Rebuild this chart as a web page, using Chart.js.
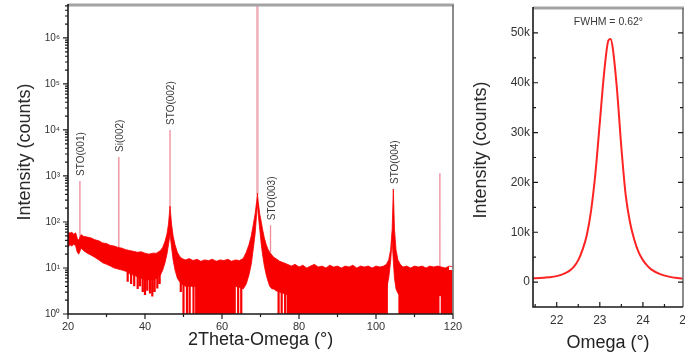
<!DOCTYPE html>
<html><head><meta charset="utf-8">
<script src="https://cdn.jsdelivr.net/npm/chart.js@4.4.1/dist/chart.umd.min.js"></script>
<style>
html,body{margin:0;padding:0;background:#fff;overflow:hidden;}
body{width:685px;height:358px;position:relative;}
#c1{position:absolute;left:0;top:0;}
#c2{position:absolute;left:470px;top:0;}
</style></head><body>
<canvas id="c1" width="470" height="358"></canvas>
<canvas id="c2" width="245" height="358"></canvas>
<script>
// ---------- Left panel: 2Theta-Omega scan (log counts) ----------
const xrdTwoTheta = [20,20.5,21,21.5,22,22.4,22.8,23.4,24,25,26,27,28,29,30,31,32,33,34,35,36,37,38,39,40,41,42,43,44,44.6,45.2,45.7,46.1,46.5,46.9,47.3,47.8,48.4,49,49.6,50.5,51.5,52.5,53.5,54.5,55.5,56.5,57.5,58.5,59.5,60.5,61.5,62.5,63.5,64.5,65.5,66.3,67,67.6,68.1,68.6,69.0,69.2,69.4,69.8,70.2,70.6,71.0,71.5,72.0,72.4,73.0,73.5,74.0,75,76,77,78,79,80,81,82,83,84,85,86,87,88,89,90,91,92,93,94,95,96,97,98,99,100,101,102,102.7,103.3,103.8,104.2,104.5,104.8,105.2,105.7,106.3,107,108,109,110,111,112,113,114,115,116,117,118,119,120];
const xrdUpper = [62,57,60,54,58,44,40,53,49,47,45,41,39,35,34,31,30,28,27,25,24,23,22,22.5,21,20,21,21,24,28,38,55,90,220,90,50,32,22,18,16,15,16,14.5,15.5,14,15,14.5,15.5,14,15,14.5,15.5,14,15,14.5,16,22,32,50,85,150,280,420,280,150,100,65,45,32,25,22,19,17,16,14,13,12,11,12,10.5,11.5,10,11,12,10.5,11,10,11.5,10.5,11,10,11,10.5,11.5,10,11,10.5,11,10,11,10.5,11,12,15,25,70,520,70,25,15,12,10.5,11,10,11,10.5,11,10,11,10.5,11,10.5,10,11,10.5];
const xrdLower = [28,32,30,33,30,22,20,27,24,21,19,17,15,13,12,11,10,9.5,9,8.5,7.5,7,6.5,6,5.5,5.5,5.5,6,7,9,13,20,32,55,28,15,9,6,5,4.5,4,4,4,4,4,4,4,4,4,4,4,4,4,4,3.8,3.5,4.5,7,12,25,55,150,260,150,70,32,18,11,7,5,4,3.5,3.5,3.2,3,2.8,2.6,2.5,2.5,2.5,2.5,2.5,2.5,2.5,2.5,2.5,2.5,2.5,2.5,2.5,2.5,2.5,2.5,2.5,2.5,2.5,2.5,2.5,2.5,2.5,2.5,2.8,3.5,6,14,40,14,6,3.5,2.8,2.5,2.5,2.5,2.5,2.5,2.5,2.5,2.5,2.5,2.5,2.5,2.5,2.5,2.5];
// noise dips: deep ones reach the axis (1 count), shallow ones stop higher
const dipStart = 9;
const deepDipX = [50.0,50.9,51.6,52.6,53.3,53.7,54.0,54.4,54.9,55.2,55.6,56.1,56.4,56.8,57.3,57.6,58.0,58.5,58.8,59.3,59.7,60.0,60.5,60.9,61.2,61.7,62.1,62.4,62.9,63.3,64.2,65.0,
 74.7,75.5,76.4,77.1,77.5,77.9,78.4,78.7,79.2,79.6,80.0,80.5,80.8,81.3,81.7,82.1,82.6,82.9,83.4,83.8,84.2,84.7,85.0,85.5,85.9,86.3,86.8,87.1,87.6,88.0,88.4,88.9,89.2,89.7,90.1,90.5,91.0,91.3,91.8,92.2,92.6,93.1,93.4,93.9,94.3,94.7,95.2,95.5,96.0,96.4,96.8,97.3,97.6,98.1,98.5,98.9,99.4,99.7,100.2,100.6,101.0,101.5,101.8,102.3,102.8,
 106.1,106.5,107.0,107.3,107.8,108.2,108.6,109.1,109.4,109.9,110.3,110.7,111.2,111.5,112.0,112.4,112.8,113.3,113.6,114.1,114.5,114.9,115.4,115.8,116.2,117.1,117.5,118.0,118.3,118.8,119.2,119.6];
const shallowDipX  = [35.5,36.4,37.2,38.1,38.7,39.4,40.0,40.6,41.3,41.9,42.5,43.2,43.8,49.3];
const shallowDipTo = [5,4.5,4,3.5,4,3,2.6,3.2,2.8,2.4,3,3.6,4.5,3];
// sharp reflections
const peakX    = [23.1, 33.2, 46.5, 72.6, 116.6];
const peakTop  = [780, 2600, 10000, 85, 1150];
const peakBase = [40, 25, 200, 22, 10];
const substrateX = [69.2];
const substrateTop = [6000000];
const substrateBase = [400];
// peak labels
const noteText = ['STO(001)', 'Si(002)', 'STO(002)', 'STO(003)', 'STO(004)'];
const noteX    = [23.1, 33.2, 46.5, 72.6, 104.5];
const noteY    = [780, 2600, 10000, 85, 520];
// axes
const xrdXTicks = [20, 40, 60, 80, 100, 120];
const xrdXMinor = [30, 50, 70, 90, 110];
const xrdYTicks = [1, 10, 100, 1000, 10000, 100000, 1000000];
const xrdYTickLabels = ['10\u2070','10\u00b9','10\u00b2','10\u00b3','10\u2074','10\u2075','10\u2076'];
const xrdXTitle = '2Theta-Omega (\u00b0)';
const yTitle = 'Intensity (counts)';

// ---------- Right panel: rocking curve ----------
const omega = [21.45,21.6,21.8,22.0,22.2,22.3,22.4,22.5,22.6,22.7,22.8,22.9,23.0,23.1,23.2,23.25,23.3,23.4,23.5,23.6,23.7,23.8,23.9,24.0,24.1,24.2,24.4,24.6,24.8,24.95];
const rcCounts = [750,800,950,1200,1800,2300,3100,4400,6500,9500,14500,22000,32000,42000,48500,48800,47000,38500,27000,17500,12000,8500,6000,4400,3300,2500,1600,1100,800,650];
const rcXTicks = [22, 23, 24, 25];
const rcXMinor = [21.5, 22.5, 23.5, 24.5];
const rcYTicks = [0, 10000, 20000, 30000, 40000, 50000];
const rcYMinor = [5000, 15000, 25000, 35000, 45000];
const rcYTickLabels = ['0', '10k', '20k', '30k', '40k', '50k'];
const rcXTitle = 'Omega (\u00b0)';
const fwhmText = 'FWHM = 0.62\u00b0';
const fwhmAt = [23.2, 52200];

// ---------- helpers ----------
const FONT = 'Liberation Sans, Arial, Helvetica, sans-serif';
const pts = (xs, ys) => xs.map((x, i) => ({x, y: ys[i]}));
function vlines(xs, from, to) {
  const d = [];
  xs.forEach((x, i) => {
    d.push({x, y: Array.isArray(from) ? from[i] : from});
    d.push({x, y: Array.isArray(to) ? to[i] : to});
    d.push({x, y: null});
  });
  return d;
}
const xrdYMinor = [];
xrdYTicks.forEach(d => { for (let k = 2; k <= 9; k++) if (d * k < 5.2e6) xrdYMinor.push(d * k); });

const framePlugin = {
  id: 'frame',
  afterDatasetsDraw(chart, args, o) {
    const {ctx, chartArea: a, scales: {x: xs, y: ys}} = chart;
    ctx.save();
    ctx.strokeStyle = '#a3a3a3'; ctx.lineWidth = 3;
    ctx.beginPath(); ctx.moveTo(a.left, a.top); ctx.lineTo(a.right + 1, a.top); ctx.stroke();
    ctx.strokeStyle = '#6f6f6f'; ctx.lineWidth = 1.6;
    ctx.beginPath(); ctx.moveTo(a.right, a.top); ctx.lineTo(a.right, a.bottom); ctx.stroke();
    ctx.strokeStyle = '#1a1a1a'; ctx.lineWidth = 1.6;
    ctx.beginPath(); ctx.moveTo(a.left, a.top - 1); ctx.lineTo(a.left, a.bottom); ctx.lineTo(a.right, a.bottom); ctx.stroke();
    ctx.lineWidth = 1.2;
    ctx.beginPath();
    const d = o.dir;
    const tx = (vals, len) => vals.forEach(v => { const p = xs.getPixelForValue(v); if (p < a.left - 1 || p > a.right + 1) return; ctx.moveTo(p, a.bottom); ctx.lineTo(p, a.bottom + d * len); });
    const ty = (vals, len) => vals.forEach(v => { const p = ys.getPixelForValue(v); if (p < a.top - 1 || p > a.bottom + 1) return; ctx.moveTo(a.left, p); ctx.lineTo(a.left - d * len, p);
      if (o.rightTicks) { ctx.moveTo(a.right, p); ctx.lineTo(a.right - len, p); } });
    tx(o.xMajor, o.major); tx(o.xMinor, o.minor);
    ty(o.yMajor, o.major); ty(o.yMinor, o.minor);
    ctx.stroke();
    ctx.fillStyle = '#2a2a2a';
    ctx.font = '18px ' + FONT;
    ctx.textAlign = 'center'; ctx.textBaseline = 'middle';
    ctx.translate(o.titleX, o.titleY); ctx.rotate(-Math.PI / 2);
    ctx.fillText(o.title, 0, 0);
    ctx.restore();
    ctx.save();
    ctx.fillStyle = '#3a3a3a';
    (o.notes || []).forEach(n => {
      const px = xs.getPixelForValue(n.x), py = ys.getPixelForValue(n.y);
      ctx.save();
      ctx.font = n.size + 'px ' + FONT;
      if (n.rotate) {
        ctx.translate(px + 1.5, py - 5); ctx.rotate(-Math.PI / 2);
        ctx.textAlign = 'left'; ctx.textBaseline = 'middle';
        ctx.fillText(n.text, 0, 0);
      } else {
        ctx.textAlign = 'center'; ctx.textBaseline = 'middle';
        ctx.fillText(n.text, px, py);
      }
      ctx.restore();
    });
    ctx.restore();
  }
};

const RED = '#f80000';
const PINK = 'rgba(236,110,128,0.8)';
const PINK2 = 'rgba(240,170,180,0.9)';

new Chart(document.getElementById('c1'), {
  type: 'line',
  data: { datasets: [
    {data: pts(xrdTwoTheta, xrdLower), borderColor: RED, borderWidth: 0.8, pointRadius: 0, fill: false, order: 1, tension: 0},
    {data: pts(xrdTwoTheta, xrdUpper), borderColor: RED, borderWidth: 0.8, backgroundColor: RED, pointRadius: 0, fill: '-1', order: 1, tension: 0},
    {data: vlines(deepDipX, dipStart, 1).concat(vlines(shallowDipX, dipStart, shallowDipTo)), borderColor: RED, borderWidth: 2.2, pointRadius: 0, fill: false, spanGaps: false, order: 2},
    {data: vlines(peakX, peakBase, peakTop), borderColor: PINK, borderWidth: 1.3, pointRadius: 0, fill: false, spanGaps: false, order: 3},
    {data: vlines(substrateX, substrateBase, substrateTop), borderColor: PINK2, borderWidth: 2.6, pointRadius: 0, fill: false, spanGaps: false, order: 4}
  ]},
  options: {
    responsive: false, animation: false, devicePixelRatio: 1,
    layout: {padding: {top: 5, right: 17, left: 0, bottom: 0}},
    plugins: {
      legend: {display: false}, tooltip: {enabled: false},
      frame: {dir: 1, major: 5, minor: 3, rightTicks: false,
        xMajor: xrdXTicks, xMinor: xrdXMinor, yMajor: xrdYTicks, yMinor: xrdYMinor,
        title: yTitle, titleX: 25, titleY: 152,
        notes: noteText.map((t, i) => ({text: t, x: noteX[i], y: noteY[i], rotate: true, size: 10}))}
    },
    scales: {
      x: {type: 'linear', min: 20, max: 120,
        afterBuildTicks: s => { s.ticks = xrdXTicks.map(v => ({value: v})); },
        afterFit: s => { s.height = 44; s.paddingLeft = 0; s.paddingRight = 0; },
        grid: {display: false, drawTicks: true, tickLength: 3}, border: {display: false},
        ticks: {autoSkip: false, maxRotation: 0, padding: 3, color: '#333', font: {family: FONT, size: 11}, callback: v => String(v)},
        title: {display: true, text: xrdXTitle, color: '#222', font: {family: FONT, size: 18}, padding: {top: 0, bottom: 7}}},
      y: {type: 'logarithmic', min: 1, max: 5.2e6,
        afterBuildTicks: s => { s.ticks = xrdYTicks.map(v => ({value: v})); },
        afterFit: s => { s.width = 68; s.paddingTop = 0; s.paddingBottom = 0; },
        grid: {display: false, drawTicks: true, tickLength: 5}, border: {display: false},
        ticks: {autoSkip: false, padding: 3, color: '#333', font: {family: FONT, size: 10}, callback: (v, i) => xrdYTickLabels[i]}}
    }
  },
  plugins: [framePlugin]
});

new Chart(document.getElementById('c2'), {
  type: 'line',
  data: { datasets: [
    {data: pts(omega, rcCounts), borderColor: '#ff2424', borderWidth: 2, pointRadius: 0, fill: false, cubicInterpolationMode: 'monotone'}
  ]},
  options: {
    responsive: false, animation: false, devicePixelRatio: 1,
    layout: {padding: {top: 8, right: 32, left: 0, bottom: 0}},
    plugins: {
      legend: {display: false}, tooltip: {enabled: false},
      frame: {dir: -1, major: 5, minor: 3, rightTicks: true,
        xMajor: rcXTicks, xMinor: rcXMinor, yMajor: rcYTicks, yMinor: rcYMinor,
        title: yTitle, titleX: 11, titleY: 150,
        notes: [{text: fwhmText, x: fwhmAt[0], y: fwhmAt[1], rotate: false, size: 10.5}]}
    },
    scales: {
      x: {type: 'linear', min: 21.45, max: 24.93,
        afterBuildTicks: s => { s.ticks = rcXTicks.map(v => ({value: v})); },
        afterFit: s => { s.height = 51; s.paddingLeft = 0; s.paddingRight = 0; },
        grid: {display: false, drawTicks: false}, border: {display: false},
        ticks: {autoSkip: false, maxRotation: 0, padding: 6, color: '#333', font: {family: FONT, size: 12}, callback: v => String(v)},
        title: {display: true, text: rcXTitle, color: '#222', font: {family: FONT, size: 18}, padding: {top: 0, bottom: 4}}},
      y: {type: 'linear', min: -5000, max: 55000,
        afterBuildTicks: s => { s.ticks = rcYTicks.map(v => ({value: v})); },
        afterFit: s => { s.width = 63; s.paddingTop = 0; s.paddingBottom = 0; },
        grid: {display: false, drawTicks: false}, border: {display: false},
        ticks: {autoSkip: false, padding: 3, color: '#333', font: {family: FONT, size: 12}, callback: (v, i) => rcYTickLabels[i]}}
    }
  },
  plugins: [framePlugin]
});
</script>
</body></html>
